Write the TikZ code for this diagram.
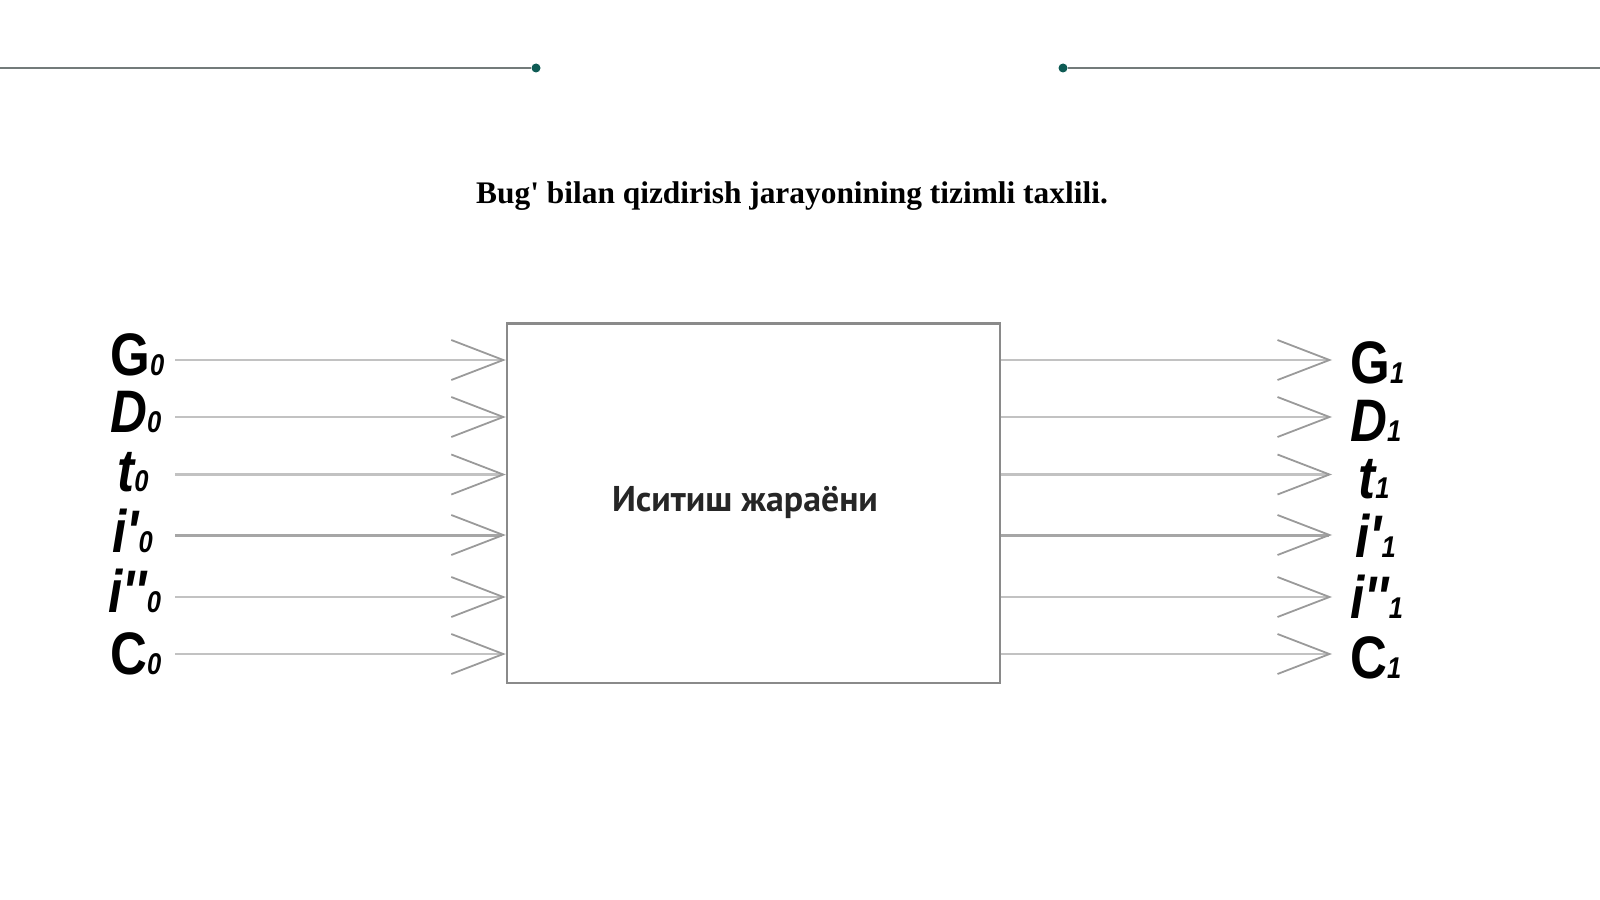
\documentclass[tikz,border=0pt]{standalone}
\usepackage{fontspec}
\setmainfont{Liberation Serif}
\newfontfamily\lblfont{Liberation Sans}
\newfontfamily\boxfont{PT Sans}
\usetikzlibrary{arrows.meta}
\definecolor{dotc}{HTML}{0E5B54}
\definecolor{rulec}{HTML}{737B7A}
\definecolor{boxc}{HTML}{8A8A8A}
\definecolor{shaftc}{HTML}{C2C2C2}
\definecolor{shaftd}{HTML}{A6A6A6}
\definecolor{headc}{HTML}{9A9A9A}
\newcommand\lsub[1]{{\fontsize{15}{15}\selectfont\bfseries\itshape #1}}
\newcommand\lblU[2]{\scalebox{0.85}[1]{\bfseries #1\lsub{#2}}}
\newcommand\lblI[2]{\scalebox{0.85}[1]{\bfseries\itshape #1\lsub{#2}}}
\begin{document}
\begin{tikzpicture}[x=0.5pt,y=-0.5pt,
  rule/.style={draw=rulec,line width=1pt},
  dot/.style={circle,fill=dotc,minimum size=4.5pt,inner sep=0pt},
  arr/.style={draw=shaftc,line width=1.3pt,
    -{Straight Barb[length=26pt,width=20pt,line width=0.9pt,color=headc]}},
  arrd/.style={arr,draw=shaftd,line width=1.5pt},
  lbl/.style={font=\lblfont\fontsize{30}{30}\selectfont,inner sep=0pt},
]
\useasboundingbox (0,0) rectangle (1600,899);
% top rules
\coordinate (rl) at (0,68);
\coordinate (rr) at (1600,68);
\node[dot] (dl) at (536,68) {};
\node[dot] (dr) at (1063,68) {};
\draw[rule] (rl) -- (dl);
\draw[rule] (dr) -- (rr);
% title
\node[font=\fontsize{15.7}{18}\selectfont\bfseries] (title) at (792,196)
  {Bug\textquotesingle{} bilan qizdirish jarayonining tizimli taxlili.};
% process box
\node[draw=boxc,line width=1.2pt,minimum width=246.5pt,minimum height=179.75pt,inner sep=0pt]
  (proc) at (753.5,503.25) {};
\node[font=\boxfont\bfseries\fontsize{17.9}{20}\selectfont,text=black!85] (ptext) at (745,503)
  {Иситиш жараёни};
% connector end points
\foreach \n/\y in {G/360,D/417,t/474.5,ip/535,ipp/597,C/654}{
  \coordinate (in\n) at (175,\y);
  \coordinate (out\n) at (1332,\y);
}
% left inputs
\node[lbl,anchor=base west] (lG0) at (110,375) {\lblU{G}{0}};
\node[lbl,anchor=base west] (lD0) at (110,432) {\lblI{D}{0}};
\node[lbl,anchor=base west] (lt0) at (117,491) {\lblI{t}{0}};
\node[lbl,anchor=base west] (li0) at (112,552) {\lblI{i'}{0}};
\node[lbl,anchor=base west] (lii0) at (108,612) {\lblI{i''}{0}};
\node[lbl,anchor=base west] (lC0) at (110,674) {\lblU{C}{0}};
\draw[arr] (inG) -- (inG -| proc.west);
\draw[arr] (inD) -- (inD -| proc.west);
\draw[arr] (int) -- (int -| proc.west);
\draw[arrd] (inip) -- (inip -| proc.west);
\draw[arr] (inipp) -- (inipp -| proc.west);
\draw[arr] (inC) -- (inC -| proc.west);
% right outputs
\draw[arr] (outG -| proc.east) -- (outG);
\draw[arr] (outD -| proc.east) -- (outD);
\draw[arr] (outt -| proc.east) -- (outt);
\draw[arrd] (outip -| proc.east) -- (outip);
\draw[arr] (outipp -| proc.east) -- (outipp);
\draw[arr] (outC -| proc.east) -- (outC);
\node[lbl,anchor=base west] (lG1) at (1350,383) {\lblU{G}{1}};
\node[lbl,anchor=base west] (lD1) at (1350,441) {\lblI{D}{1}};
\node[lbl,anchor=base west] (lt1) at (1358,498) {\lblI{t}{1}};
\node[lbl,anchor=base west] (li1) at (1355,557) {\lblI{i'}{1}};
\node[lbl,anchor=base west] (lii1) at (1350,618) {\lblI{i''}{1}};
\node[lbl,anchor=base west] (lC1) at (1350,678) {\lblU{C}{1}};
\end{tikzpicture}
\end{document}
